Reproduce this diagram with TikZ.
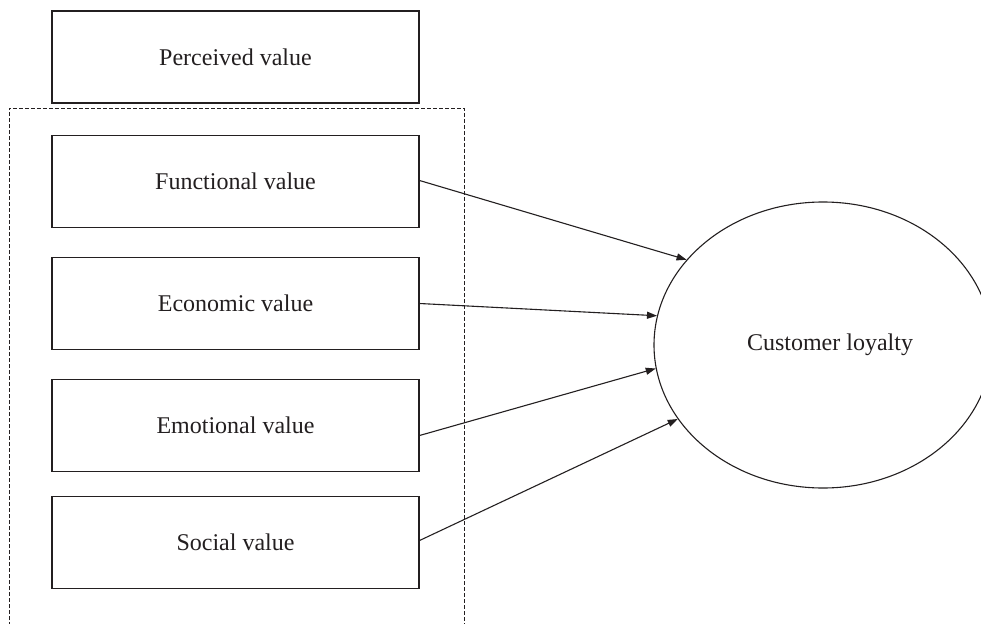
\documentclass[tikz,border=0pt]{standalone}
\usepackage{fontspec}
\setmainfont{Liberation Serif}
\usetikzlibrary{arrows.meta,shapes.geometric,calc}
\definecolor{ink}{HTML}{231F20}
\tikzset{
  valbox/.style={draw=ink, line width=1.1pt, rectangle, minimum width=367pt, minimum height=92pt, inner sep=0pt, text=ink, font=\fontsize{24}{28}\selectfont},
  loyal/.style={draw=ink, line width=1.1pt, ellipse, minimum width=338pt, minimum height=286pt, inner sep=0pt, text=ink, font=\fontsize{24}{28}\selectfont},
  link/.style={draw=ink, line width=1.1pt, -{Triangle[length=10pt,width=7pt]}},
  frame/.style={draw=ink, line width=0.8pt, dash pattern=on 4pt off 2pt}
}
\begin{document}
\begin{tikzpicture}[x=1pt,y=-1pt]
\useasboundingbox (0,0) rectangle (981,623);
\clip (0,0) rectangle (981,623);
\fill[white] (0,0) rectangle (981,623);
\node[valbox] (perc) at (235.5,57) {Perceived value};
\coordinate (fbl) at (9,626);
\coordinate (ftl) at (9,108);
\coordinate (ftr) at (464,108);
\coordinate (fbr) at (464,626);
\draw[frame] (fbl) -- (ftl) -- (ftr) -- (fbr);
\node[valbox] (func) at (235.5,181.5) {Functional value};
\node[valbox] (econ) at (235.5,303.5) {Economic value};
\node[valbox] (emot) at (235.5,425.5) {Emotional value};
\node[valbox] (soc) at (235.5,542.5) {Social value};
\node[loyal] (cl) at (823,345) {\hspace*{14pt}Customer loyalty};
\draw[link] ($(func.east)+(0,-1)$) -- (cl.148.6);
\draw[link] (econ.east) -- (cl.170);
\draw[link] ($(emot.east)+(0,10)$) -- (cl.188.4);
\draw[link] ($(soc.east)+(0,-2)$) -- (cl.207.4);
\end{tikzpicture}
\end{document}
